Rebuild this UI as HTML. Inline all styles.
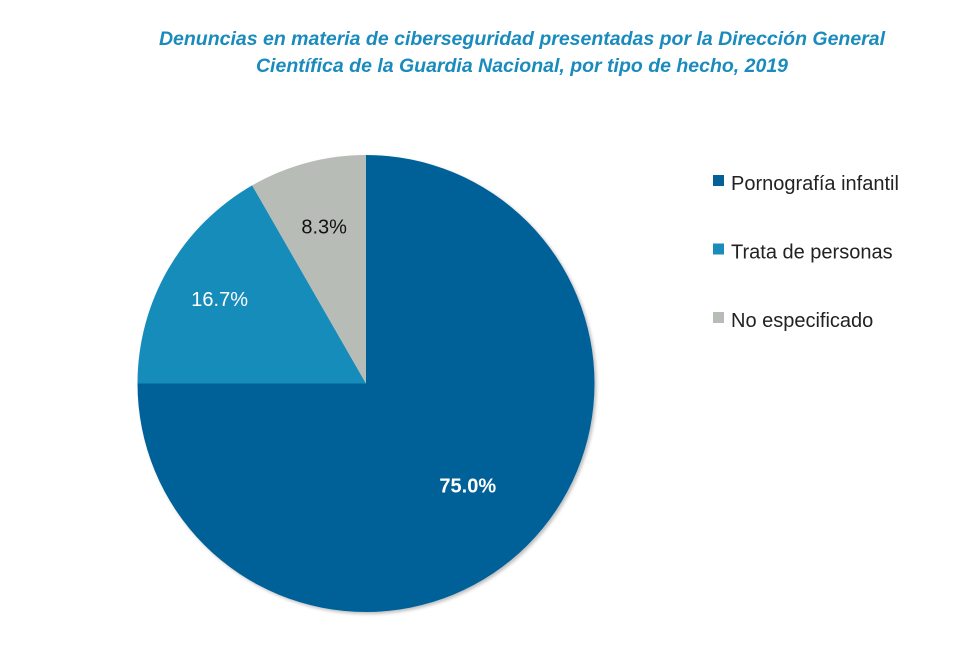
<!DOCTYPE html>
<html><head><meta charset="utf-8"><style>
html,body{margin:0;padding:0;background:#fff;}
svg{display:block;font-family:"Liberation Sans",Arial,sans-serif;}
</style></head><body>
<svg width="966" height="664" viewBox="0 0 966 664">
<defs><filter id="sh" x="-10%" y="-10%" width="120%" height="120%"><feDropShadow dx="2" dy="2" stdDeviation="1.5" flood-color="#000" flood-opacity="0.25"/></filter></defs>
<g fill="#1a8bbd" font-weight="bold" font-style="italic" font-size="19.5" text-anchor="middle">
<text x="522" y="45">Denuncias en materia de ciberseguridad presentadas por la Dirección General</text>
<text x="522" y="72">Científica de la Guardia Nacional, por tipo de hecho, 2019</text>
</g>
<g id="slices" filter="url(#sh)"></g>
<g id="labels"></g>
<g id="legend"></g>
</svg>
<script>
const categories = ["Pornografía infantil","Trata de personas","No especificado"];
const values = [75.0, 16.7, 8.3];
const valueLabels = ["75.0%","16.7%","8.3%"];
const colors = ["#036198","#198cbb","#b8bcb7"];
const labelColors = ["#ffffff","#ffffff","#111111"];
const cx=366, cy=383.5, r=228.5;
const ns="http://www.w3.org/2000/svg";
const total = values.reduce((a,b)=>a+b,0);
function pt(a,rr){return [cx+rr*Math.sin(a), cy-rr*Math.cos(a)];}
let start=0;
const sg=document.getElementById('slices'), lg=document.getElementById('labels'), leg=document.getElementById('legend');
values.forEach((v,i)=>{
  const ang=v/total*2*Math.PI, end=start+ang;
  const [x1,y1]=pt(start,r), [x2,y2]=pt(end,r);
  const p=document.createElementNS(ns,'path');
  p.setAttribute('d',`M${cx},${cy} L${x1},${y1} A${r},${r} 0 ${ang>Math.PI?1:0} 1 ${x2},${y2} Z`);
  p.setAttribute('fill',colors[i]);
  
  
  sg.appendChild(p);
  const mid=(start+end)/2;
  const rf = v>50?0.63:(v>12?0.74:0.71);
  const [lx,ly]=pt(mid,r*rf);
  const t=document.createElementNS(ns,'text');
  t.setAttribute('x',lx); t.setAttribute('y',ly+7);
  t.setAttribute('text-anchor','middle'); t.setAttribute('font-size','20');
  t.setAttribute('fill',labelColors[i]);
  if(v>50) t.setAttribute('font-weight','bold');
  t.textContent=valueLabels[i];
  
  
  lg.appendChild(t);
  const ey=183+i*68.5;
  const s=document.createElementNS(ns,'rect');
  s.setAttribute('x',713); s.setAttribute('y',ey-8); s.setAttribute('width',11); s.setAttribute('height',11);
  s.setAttribute('fill',colors[i]);
  
  
  leg.appendChild(s);
  const lt=document.createElementNS(ns,'text');
  lt.setAttribute('x',731); lt.setAttribute('y',ey+7); lt.setAttribute('font-size','20'); lt.setAttribute('fill','#222');
  lt.textContent=categories[i];
  
  
  leg.appendChild(lt);
  start=end;
});
</script>
</body></html>
